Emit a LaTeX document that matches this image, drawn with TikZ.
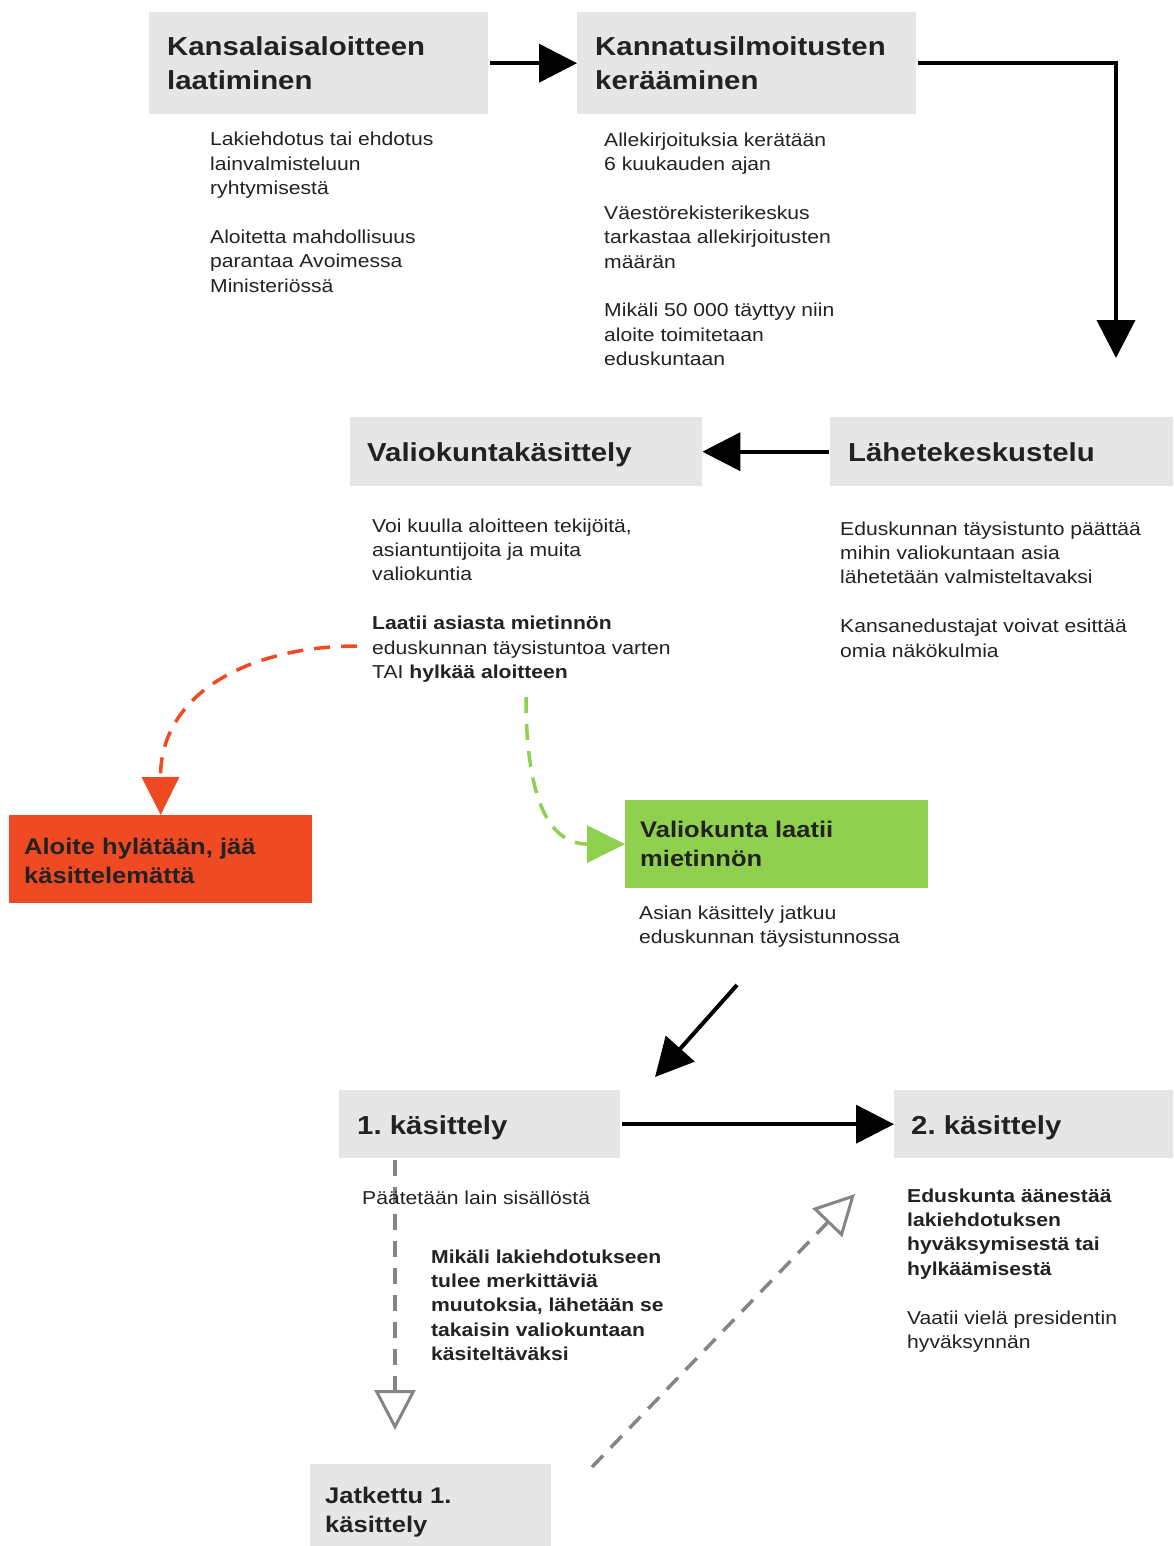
\documentclass[tikz,border=0pt]{standalone}
\usepackage{fontspec}
\setmainfont{Liberation Sans}[FakeStretch=1.13]
\usetikzlibrary{arrows.meta}
\frenchspacing
\definecolor{boxgray}{HTML}{E6E6E6}
\definecolor{txt}{HTML}{222222}
\definecolor{redbox}{HTML}{F04A24}
\definecolor{greenbox}{HTML}{8FD14F}
\definecolor{arrgray}{HTML}{858585}
\tikzset{
  gbox/.style={fill=boxgray, draw=none, inner sep=0pt, anchor=north west},
  ttl/.style={font=\fontsize{26}{34}\selectfont\bfseries, text=txt, align=left, inner sep=0pt, anchor=base west},
  btl/.style={font=\fontsize{22.6}{29}\selectfont\bfseries, text=txt, align=left, inner sep=0pt, anchor=base west},
  body/.style={font=\fontsize{18.7}{24.4}\selectfont, text=txt, align=left, inner sep=0pt, anchor=base west},
  bodyb/.style={body, font=\fontsize{18.7}{24.4}\selectfont\bfseries},
  solidarr/.style={line width=4pt, draw=black, -{Triangle[length=38pt,width=38pt]}},
  reddash/.style={line width=3.5pt, draw=redbox, dash pattern=on 16pt off 11pt, -{Triangle[length=38pt,width=37pt]}},
  greendash/.style={line width=3.5pt, draw=greenbox, dash pattern=on 16pt off 11pt, -{Triangle[length=38pt,width=37pt]}},
  graydash/.style={line width=3.5pt, draw=arrgray, dash pattern=on 16pt off 11pt, -{Triangle[open,length=40pt,width=41pt,fill=white,line width=3pt]}},
}
\begin{document}
\begin{tikzpicture}[x=1pt,y=-1pt]
\fill[white] (0,0) rectangle (1173,1546);
\useasboundingbox (0,0) rectangle (1173,1546);

% boxes
\node[gbox, minimum width=339pt, minimum height=102pt] (b1) at (149,12) {};
\node[gbox, minimum width=339pt, minimum height=102pt] (b2) at (577,12) {};
\node[gbox, minimum width=352pt, minimum height=69pt] (b3) at (350,417) {};
\node[gbox, minimum width=343pt, minimum height=69pt] (b4) at (830,417) {};
\node[gbox, fill=redbox, minimum width=303pt, minimum height=88pt] (rb) at (9,815) {};
\node[gbox, fill=greenbox, minimum width=303pt, minimum height=88pt] (gb) at (625,800) {};
\node[gbox, minimum width=281pt, minimum height=68pt] (k1) at (339,1090) {};
\node[gbox, minimum width=279pt, minimum height=68pt] (k2) at (894,1090) {};
\node[gbox, minimum width=241pt, minimum height=82pt] (jk) at (310,1464) {};

% titles (anchor = baseline of last line)
\node[ttl] (b1t) at (167,90) {Kansalaisaloitteen\\laatiminen};
\node[ttl] (b2t) at (595,90) {Kannatusilmoitusten\\kerääminen};
\node[ttl] (b3t) at (367,461.5) {Valiokuntakäsittely};
\node[ttl] (b4t) at (848,461.5) {Lähetekeskustelu};
\node[btl] (rbt) at (24,883) {Aloite hylätään, jää\\käsittelemättä};
\node[btl] (gbt) at (640,866) {Valiokunta laatii\\mietinnön};
\node[ttl] (k1t) at (357,1134) {1. käsittely};
\node[ttl] (k2t) at (911,1134) {2. käsittely};
\node[btl] (jkt) at (325,1532) {Jatkettu 1.\\käsittely};

% connectors
\coordinate (cdown) at (1116,358);
\coordinate (redstart) at (357,646);
\coordinate (greenstart) at (526,697);
\coordinate (dstart) at (737,985);
\coordinate (dend) at (655,1077);
\coordinate (gvs) at (395,1160);
\coordinate (gve) at (395,1430);
\coordinate (gds) at (592,1467);
\coordinate (gde) at (855,1194);

\draw[solidarr, shorten <=2pt] (b1) -- (b2);
\draw[solidarr, shorten <=2pt] (b2.east) -| (cdown);
\draw[solidarr, shorten <=1pt] (b4) -- (b3);
\draw[reddash] (redstart) .. controls (255,646) and (160,690) .. (rb.north);
\draw[greendash] (greenstart) .. controls (526,790) and (545,844) .. (gb.west);
\draw[solidarr] (dstart) -- (dend);
\draw[solidarr, shorten <=2pt] (k1) -- (k2);
\draw[graydash] (gvs) -- (gve);
\draw[graydash] (gds) -- (gde);

% body texts (anchor = baseline of last line)
\node[body] (ta) at (210,292.4) {Lakiehdotus tai ehdotus\\lainvalmisteluun\\ryhtymisestä\\[24.4pt]Aloitetta mahdollisuus\\parantaa Avoimessa\\Ministeriössä};
\node[body] (tb) at (604,365.6) {Allekirjoituksia kerätään\\6 kuukauden ajan\\[24.4pt]Väestörekisterikeskus\\tarkastaa allekirjoitusten\\määrän\\[24.4pt]Mikäli 50 000 täyttyy niin\\aloite toimitetaan\\eduskuntaan};
\node[body] (tc) at (372,678.4) {Voi kuulla aloitteen tekijöitä,\\asiantuntijoita ja muita\\valiokuntia\\[24.4pt]\textbf{Laatii asiasta mietinnön}\\eduskunnan täysistuntoa varten\\TAI \textbf{hylkää aloitteen}};
\node[body] (td) at (840,657) {Eduskunnan täysistunto päättää\\mihin valiokuntaan asia\\lähetetään valmisteltavaksi\\[24.4pt]Kansanedustajat voivat esittää\\omia näkökulmia};
\node[body] (te) at (639,943.4) {Asian käsittely jatkuu\\eduskunnan täysistunnossa};
\node[body] (tp) at (362,1204) {Päätetään lain sisällöstä};
\node[bodyb] (tm) at (431,1360.6) {Mikäli lakiehdotukseen\\tulee merkittäviä\\muutoksia, lähetään se\\takaisin valiokuntaan\\käsiteltäväksi};
\node[body] (tf) at (907,1348.4) {\textbf{Eduskunta äänestää}\\\textbf{lakiehdotuksen}\\\textbf{hyväksymisestä tai}\\\textbf{hylkäämisestä}\\[24.4pt]Vaatii vielä presidentin\\hyväksynnän};
\end{tikzpicture}
\end{document}
